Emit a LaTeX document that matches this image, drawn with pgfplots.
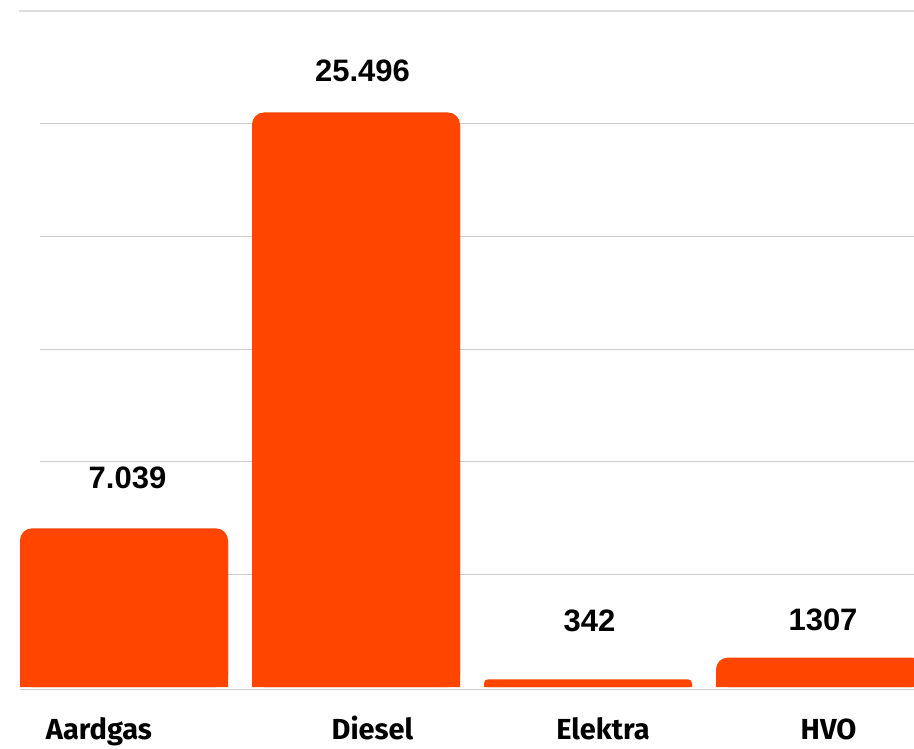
\documentclass[border=0pt]{standalone}
\usepackage{fontspec}
\setmainfont{Liberation Sans}
\newfontfamily\catfont{Fira Sans}
\usepackage{pgfplots}
\pgfplotsset{compat=1.18}
\definecolor{barc}{HTML}{FF4500}
\definecolor{gridc}{HTML}{CCCCCC}
\definecolor{topc}{HTML}{DEDEDE}
\begin{document}
\begin{tikzpicture}
\path[use as bounding box] (0pt,-61pt) rectangle (914pt,687pt);
\begin{axis}[
  at={(0pt,0pt)}, anchor=south west,
  scale only axis, width=914pt, height=676pt,
  xmin=-0.5345, xmax=3.4052, ymin=0, ymax=30000,
  hide axis, clip=false,
]
% gridlines
\foreach \yy in {5000,10000,15000,20000,25000}{
  \edef\tmp{\noexpand\draw[gridc, line width=1pt] (axis cs:-0.362,\yy) -- (axis cs:3.4052,\yy);}
  \tmp
}
\draw[topc, line width=2pt] (axis cs:-0.4526,30000) -- (axis cs:3.4052,30000);
\draw[gridc, line width=1.2pt] (axis cs:-0.448,-120) -- (axis cs:3.4052,-120);
% bars with rounded tops
\addplot[ybar, bar width=208pt, bar shift=0pt, fill=barc, draw=none, rounded corners=12pt]
  coordinates {(0,7039) (1,25496) (3,1307)};
\addplot[ybar, bar width=208pt, bar shift=0pt, fill=barc, draw=none, rounded corners=4pt]
  coordinates {(2,342)};
\addplot[ybar, bar width=208pt, bar shift=0pt, fill=barc, draw=none]
  coordinates {(0,6500) (1,24950) (2,170) (3,770)};
% value labels
\node[anchor=base, font=\bfseries\fontsize{31}{31}\selectfont] at (axis cs:0.015,8831) {7.039};
\node[anchor=base, font=\bfseries\fontsize{31}{31}\selectfont] at (axis cs:1.028,26893) {25.496};
\node[anchor=base, font=\bfseries\fontsize{31}{31}\selectfont] at (axis cs:2.006,2485) {342};
\node[anchor=base, font=\bfseries\fontsize{31}{31}\selectfont] at (axis cs:3.013,2500) {1307};
% category labels
\node[anchor=base, font=\catfont\bfseries\fontsize{29}{29}\selectfont] at (axis cs:-0.108,-2350) {Aardgas};
\node[anchor=base, font=\catfont\bfseries\fontsize{29}{29}\selectfont] at (axis cs:1.071,-2350) {Diesel};
\node[anchor=base, font=\catfont\bfseries\fontsize{29}{29}\selectfont] at (axis cs:2.065,-2350) {Elektra};
\node[anchor=base, font=\catfont\bfseries\fontsize{29}{29}\selectfont] at (axis cs:3.037,-2350) {HVO};
\end{axis}
\end{tikzpicture}
\end{document}
